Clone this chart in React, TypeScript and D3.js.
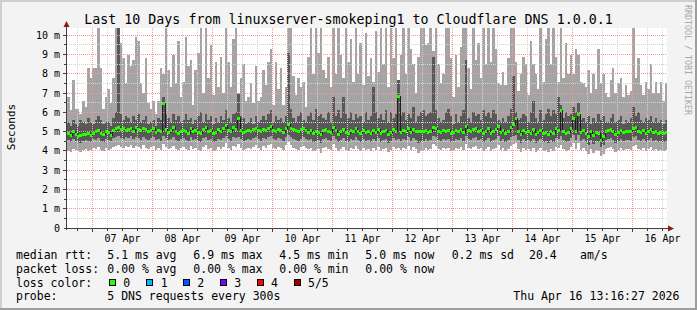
import React from "react";
import * as d3 from "d3";

const W = 697;
const H = 310;
const TITLE = "Last 10 Days from linuxserver-smokeping1 to Cloudflare DNS 1.0.0.1";
const Y_LABEL = "Seconds";
const SIDE_LABEL = "RRDTOOL / TOBI OETIKER";
const STAMP = "Thu Apr 16 13:16:27 2026";

// hourly smoke values in ms (5 pings: max, 4th, median, 2nd, min)
const maxRtt = [
  6.8,6.1,7.7,6.2,6.2,5.9,6.6,6.3,8.3,7.8,8.3,8.3,10.4,8.3,6.2,6.8,7.2,6.5,7.8,10.4,10.4,9.6,8.8,7.5,
  9.0,8.4,8.7,9.9,9.7,7.5,7.0,8.8,6.5,6.2,6.6,5.9,6.6,8.3,8.0,10.4,8.2,7.3,9.0,7.5,9.7,6.8,7.6,9.9,
  8.4,8.7,6.4,8.2,9.1,10.4,7.0,10.4,7.8,9.5,6.9,8.6,7.3,8.9,7.0,10.4,8.6,7.3,9.8,10.4,7.0,7.8,8.5,6.6,
  6.8,7.5,6.5,8.4,6.6,6.8,8.2,7.4,8.6,9.3,6.4,8.6,7.2,8.3,6.4,7.3,10.4,10.4,7.9,6.9,7.8,7.3,7.6,6.3,
  8.9,10.4,8.0,10.4,9.1,10.4,8.2,7.8,8.9,7.3,10.4,8.0,10.4,9.0,7.8,10.4,8.6,9.8,7.6,10.4,8.0,9.6,7.4,10.1,
  7.9,8.8,7.6,10.2,8.1,10.4,8.5,10.4,7.3,10.4,8.8,10.4,7.7,9.0,10.4,8.0,10.4,9.3,8.5,7.0,8.9,10.4,10.4,9.5,
  9.6,10.4,9.2,10.4,8.5,7.5,8.0,10.4,10.4,8.8,6.8,9.0,7.3,9.4,10.4,10.4,8.3,7.2,10.4,8.7,9.6,7.8,10.4,8.5,
  10.4,8.6,10.4,9.3,7.5,7.4,8.1,7.4,8.8,10.4,10.4,8.6,7.1,8.0,8.9,8.5,6.9,9.7,8.5,8.0,7.2,10.4,7.6,9.8,
  10.4,8.5,10.4,8.9,7.6,10.4,7.8,9.6,8.0,9.0,8.0,9.3,9.0,7.6,7.5,7.3,8.2,7.0,8.0,7.2,9.3,7.5,8.0,7.0,
  6.8,7.7,8.3,7.0,7.5,7.8,6.8,7.4,6.9,7.1,10.4,7.8,8.8,7.4,6.9,7.6,7.2,8.5,7.0,7.6,7.0,7.6,6.6,7.5,
];
const p4Rtt = [
  5.5,5.3,5.6,5.4,5.3,5.6,5.5,5.4,5.7,5.5,5.4,5.6,5.8,5.6,5.4,5.5,5.5,5.3,5.7,6.0,10.4,5.9,5.6,5.8,
  5.7,5.5,5.8,5.6,5.9,5.5,5.6,5.8,5.4,5.5,5.6,5.3,5.7,5.6,6.8,5.9,5.7,5.5,5.9,5.6,5.8,5.5,5.6,5.9,
  5.6,5.7,5.4,5.6,5.8,6.0,5.5,5.9,5.6,5.8,5.4,5.7,5.5,5.8,5.6,6.1,5.7,5.5,5.9,6.0,6.95,5.8,5.7,5.4,
  5.5,5.7,5.4,5.8,5.5,5.6,5.8,5.6,5.9,6.1,5.5,5.8,5.6,5.7,5.5,5.8,9.1,6.2,5.7,5.5,5.8,6.0,5.6,5.5,
  5.8,6.0,5.6,6.2,5.8,5.9,5.7,5.6,6.0,5.5,6.8,5.8,6.1,5.7,6.8,5.9,5.7,6.0,5.6,5.9,5.7,5.8,5.5,6.0,
  5.6,5.8,7.3,6.0,5.7,5.9,5.6,6.1,5.5,6.0,5.7,5.9,7.7,5.8,6.0,5.6,5.9,5.7,6.3,5.5,5.8,6.0,6.1,5.8,
  5.9,6.0,8.9,6.1,5.7,5.5,5.6,6.0,6.2,5.8,5.4,5.9,5.5,5.8,6.1,8.7,5.7,5.5,6.0,5.8,5.9,5.6,6.1,5.8,
  6.0,5.7,6.1,5.9,5.6,5.5,5.7,5.5,5.8,6.2,7.9,6.0,5.6,5.7,5.9,5.8,5.5,6.0,6.6,5.7,5.5,6.1,5.6,5.9,
  6.2,5.8,6.1,5.9,6.8,6.4,5.7,6.0,5.8,5.9,6.3,6.0,6.5,5.6,5.7,5.5,5.8,5.4,5.7,5.5,5.9,5.6,5.8,5.5,
  5.5,5.7,5.9,5.5,5.6,5.8,5.4,5.6,5.5,5.7,6.3,5.8,6.0,5.6,5.5,5.7,5.6,5.8,5.5,5.7,5.5,5.6,5.4,5.6,
];
const medRtt = [
  4.95,4.85,5.05,4.90,4.80,4.85,4.90,4.90,4.95,4.85,4.95,5.05,5.10,4.95,4.90,5.05,5.00,4.85,5.10,5.20,5.25,5.15,5.20,5.10,
  5.15,5.20,5.05,5.25,5.15,5.10,5.20,5.15,5.05,5.10,5.20,5.00,5.10,5.05,6.50,5.15,5.00,5.10,5.25,5.05,4.95,5.05,5.10,5.05,
  4.95,5.20,5.05,5.10,5.00,4.95,5.15,5.25,5.05,5.10,4.95,5.00,5.15,5.05,5.20,5.35,5.10,5.05,5.25,5.15,5.70,5.10,5.00,5.05,
  5.10,5.05,5.15,5.20,5.10,5.05,5.15,5.10,5.20,5.30,5.10,5.05,5.15,5.10,5.00,5.20,5.40,5.20,5.15,5.10,5.05,5.15,5.20,5.10,
  5.00,5.10,4.95,5.05,5.00,4.90,5.10,5.15,5.05,5.00,5.25,5.10,4.90,5.05,5.15,5.00,4.95,5.10,5.05,5.20,5.05,4.95,5.10,5.00,
  5.05,4.95,5.10,5.00,5.15,4.95,5.05,5.10,4.90,5.00,5.15,5.05,6.85,5.00,5.10,5.05,5.20,5.00,5.15,5.05,5.05,5.05,5.05,5.10,
  5.00,5.05,5.25,5.20,5.05,5.00,5.10,5.05,5.10,4.95,5.00,5.10,5.05,5.15,5.00,5.30,5.10,5.05,5.15,5.20,5.05,5.10,4.95,5.05,
  5.20,4.95,5.05,5.15,5.30,5.00,5.10,4.95,5.05,5.25,5.40,5.70,5.05,4.90,5.10,5.00,5.05,4.95,5.15,4.90,5.00,5.10,4.95,5.00,
  4.90,5.05,4.95,5.20,5.10,6.15,5.05,4.95,5.00,5.20,5.70,5.05,5.90,5.00,5.10,4.95,4.80,5.05,4.85,5.00,4.95,4.55,4.75,5.05,
  5.10,5.15,5.05,4.90,5.00,5.10,5.00,5.05,5.05,5.05,5.20,5.25,5.05,5.00,5.10,4.95,5.05,5.15,5.00,5.05,4.95,5.00,4.95,5.00,
];
const p2Rtt = [
  4.55,4.45,4.60,4.50,4.45,4.40,4.50,4.55,4.50,4.45,4.60,4.55,4.65,4.50,4.45,4.60,4.55,4.50,4.65,4.70,4.75,4.65,4.60,4.70,
  4.65,4.75,4.60,4.70,4.65,4.55,4.70,4.60,4.55,4.65,4.70,4.55,4.60,4.50,4.80,4.65,4.55,4.60,4.70,4.55,4.50,4.60,4.65,4.55,
  4.50,4.70,4.55,4.60,4.50,4.45,4.65,4.70,4.55,4.60,4.45,4.50,4.60,4.55,4.65,4.80,4.60,4.50,4.70,4.65,4.70,4.60,4.50,4.55,
  4.60,4.55,4.65,4.70,4.60,4.50,4.65,4.60,4.70,4.75,4.60,4.55,4.65,4.60,4.50,4.70,4.85,4.70,4.60,4.55,4.50,4.60,4.70,4.60,
  4.55,4.60,4.45,4.50,4.55,4.40,4.60,4.65,4.55,4.50,4.75,4.60,4.45,4.55,4.65,4.50,4.45,4.60,4.55,4.70,4.55,4.45,4.60,4.50,
  4.55,4.45,4.60,4.50,4.65,4.45,4.55,4.60,4.40,4.50,4.65,4.55,4.60,4.50,4.60,4.55,4.70,4.50,4.65,4.55,4.40,4.45,4.50,4.60,
  4.50,4.55,4.75,4.70,4.55,4.50,4.60,4.55,4.60,4.45,4.50,4.60,4.55,4.65,4.50,4.80,4.60,4.55,4.65,4.70,4.55,4.60,4.45,4.55,
  4.65,4.45,4.55,4.60,4.75,4.50,4.60,4.45,4.55,4.70,4.80,4.85,4.55,4.40,4.60,4.50,4.55,4.45,4.60,4.40,4.50,4.60,4.45,4.50,
  4.40,4.55,4.45,4.65,4.60,4.75,4.55,4.45,4.50,4.65,4.85,4.55,4.85,4.50,4.60,4.45,4.30,4.55,4.35,4.50,4.45,4.20,4.30,4.55,
  4.60,4.65,4.55,4.40,4.50,4.60,4.50,4.55,4.55,4.50,4.70,4.75,4.55,4.50,4.60,4.45,4.55,4.65,4.50,4.55,4.45,4.50,4.45,4.50,
];
const minRtt = [
  4.00,3.95,4.10,4.05,4.00,3.95,4.05,4.10,4.00,4.05,4.15,4.10,4.20,4.05,4.00,4.15,4.05,4.10,4.20,4.25,4.30,4.20,4.15,4.25,
  4.20,4.30,4.15,4.25,4.20,4.10,4.30,4.15,4.10,4.20,4.25,4.05,4.15,4.05,4.35,4.20,4.10,4.15,4.25,4.10,4.05,4.15,4.20,4.10,
  4.05,4.25,4.10,4.15,4.05,4.00,4.20,4.30,4.10,4.15,4.00,4.05,4.20,4.10,4.20,4.40,4.15,4.05,4.25,4.20,4.35,4.15,4.05,4.10,
  4.15,4.10,4.20,4.30,4.15,4.05,4.25,4.15,4.30,4.35,4.15,4.10,4.20,4.15,4.05,4.30,4.45,4.30,4.15,4.10,4.05,4.20,4.25,4.15,
  4.10,4.15,4.00,4.05,4.10,3.90,4.15,4.20,4.10,4.05,4.35,4.15,4.00,4.10,4.20,4.05,4.00,4.15,4.10,4.25,4.10,4.00,4.15,4.05,
  4.10,4.00,4.15,4.05,4.20,4.00,4.10,4.15,3.95,4.05,4.20,4.10,4.15,4.05,4.15,4.10,4.25,4.05,4.20,4.10,3.90,4.00,4.05,4.15,
  4.05,4.10,4.35,4.25,4.10,4.05,4.15,4.10,4.15,4.00,4.05,4.15,4.10,4.20,4.05,4.35,4.15,4.10,4.20,4.25,4.10,4.15,4.00,4.10,
  4.20,4.00,4.10,4.15,4.30,4.05,4.15,4.00,4.10,4.25,4.35,4.40,4.10,3.95,4.15,4.05,4.10,4.00,4.15,3.95,4.05,4.15,4.00,4.05,
  3.95,4.10,4.00,4.20,4.15,4.30,4.10,4.00,4.05,4.20,4.40,4.10,4.40,4.05,4.15,4.00,3.85,4.10,3.90,4.05,4.00,3.75,3.85,4.10,
  4.15,4.20,4.10,3.95,4.05,4.15,4.05,4.10,4.10,4.05,4.25,4.30,4.10,4.05,4.15,4.00,4.10,4.20,4.05,4.10,4.00,4.05,4.00,4.05,
];

const yTickValues = [0, 1, 2, 3, 4, 5, 6, 7, 8, 9, 10];
const yTickLabels = ["0", "1 m", "2 m", "3 m", "4 m", "5 m", "6 m", "7 m", "8 m", "9 m", "10 m"];

const rttLabel = "median rtt:";
const rttStats = ["5.1 ms avg", "6.9 ms max", "4.5 ms min", "5.0 ms now", "0.2 ms sd", "20.4", "am/s"];
const lossLabel = "packet loss:";
const lossStats = ["0.00 % avg", "0.00 % max", "0.00 % min", "0.00 % now"];
const colorLabel = "loss color:";
const lossNames = ["0", "1", "2", "3", "4", "5/5"];
const lossColors = ["#26ff00", "#00b8ff", "#0059ff", "#7e00ff", "#ff0000", "#a10000"];
const probeLabel = "probe:";
const probeText = "5 DNS requests every 300s";

// layout
const PL = 67, PR = 667, PT = 28, PB = 228;
const FONT = "'DejaVu Sans Mono', monospace";
const statX = [107.3, 193.3, 279.3, 365.3, 451.7, 529, 580];
const boxX = [109, 146, 183, 219.5, 256.5, 293.5];
const nameX = [123.3, 160.7, 197.3, 234.3, 271, 308];

export default function App() {
  const t0 = Date.UTC(2026, 3, 6, 13, 48);
  const t1 = Date.UTC(2026, 3, 16, 13, 48);
  const HOUR = 3600000;
  const x = d3.scaleUtc().domain([new Date(t0), new Date(t1)]).range([PL, PR]);
  const y = d3.scaleLinear().domain([0, 10.38]).range([PB, PT]);
  const yc = (v: number) => Math.round(y(Math.min(v, 10.38)));

  const bars = maxRtt.map((mx, i) => {
    const xa = Math.round(x(new Date(t0 + i * HOUR)));
    const xb = Math.round(x(new Date(t0 + (i + 1) * HOUR)));
    return { xa, xb, mx, p4: p4Rtt[i], md: medRtt[i], p2: p2Rtt[i], mn: minRtt[i] };
  });

  const stepPts: [number, number][] = [];
  bars.forEach((b) => {
    stepPts.push([b.xa, Math.round(y(b.md)) + 0.5]);
  });
  const last = bars[bars.length - 1];
  stepPts.push([last.xb, Math.round(y(last.md)) + 0.5]);
  const medLine = d3.line().curve(d3.curveStepAfter)(stepPts) || "";

  const days = d3.utcDay.range(new Date(t0), new Date(t1));
  const sixH = d3.utcHour.every(6)!.range(new Date(t0), new Date(t1)).filter((d) => d.getUTCHours() !== 0);
  const noons = d3.utcHour.every(12)!.range(new Date(t0), new Date(t1 + 1)).filter((d) => d.getUTCHours() === 12);
  const fmt = d3.utcFormat("%d %b");

  const minorY = d3.range(0.5, 10.4, 0.5).filter((v) => Math.abs(v - Math.round(v)) > 0.01);
  const majorY = d3.range(1, 11, 1);

  const px = (v: number) => Math.floor(v) + 0.5;

  const rowY = [259, 272.5, 286.5, 300];

  return (
    <svg
      width={W}
      height={H}
      style={{ position: "fixed", left: 0, top: 0 }}
      fontFamily={FONT}
    >
      <rect x={0} y={0} width={W} height={H} fill="#f3f3f3" />
      <rect x={0} y={0} width={W} height={2} fill="#cfcfcf" />
      <rect x={0} y={0} width={2} height={H} fill="#cfcfcf" />
      <rect x={0} y={H - 2} width={W} height={2} fill="#9e9e9e" />
      <rect x={W - 2} y={0} width={2} height={H} fill="#9e9e9e" />

      <rect x={PL} y={PT} width={PR - PL} height={PB - PT} fill="#ffffff" />

      <g shapeRendering="crispEdges">
        {bars.map((b, i) => (
          <rect key={"l" + i} x={b.xa} y={yc(b.mx)} width={b.xb - b.xa} height={yc(b.mn) - yc(b.mx)} fill="#a4a4a4" />
        ))}
        {bars.map((b, i) => (
          <rect key={"d" + i} x={b.xa} y={yc(b.p4)} width={b.xb - b.xa} height={yc(b.p2) - yc(b.p4)} fill="#585858" />
        ))}
      </g>

      {/* grid */}
      <g shapeRendering="crispEdges" strokeDasharray="1,1" strokeWidth={1}>
        {minorY.map((v) => (
          <line key={"my" + v} x1={PL} x2={PR} y1={px(y(v))} y2={px(y(v))} stroke="#d4d4d4" />
        ))}
        {sixH.map((d) => (
          <line key={"mx" + +d} x1={px(x(d))} x2={px(x(d))} y1={PT} y2={PB} stroke="#d4d4d4" />
        ))}
        {majorY.map((v) => (
          <line key={"My" + v} x1={PL} x2={PR} y1={px(y(v))} y2={px(y(v))} stroke="#f09a9a" />
        ))}
        {days.map((d) => (
          <line key={"Mx" + +d} x1={px(x(d))} x2={px(x(d))} y1={PT} y2={PB} stroke="#f09a9a" />
        ))}
      </g>

      {/* median */}
      <path d={medLine} fill="none" stroke="#202020" strokeWidth={1} shapeRendering="crispEdges" />
      <g shapeRendering="crispEdges">
        {bars.map((b, i) => (
          <rect key={"m" + i} x={b.xa} y={Math.round(y(b.md)) - 1} width={b.xb - b.xa} height={3} fill={lossColors[0]} />
        ))}
      </g>

      {/* axes */}
      <g shapeRendering="crispEdges" stroke="#404040">
        <line x1={66.5} x2={66.5} y1={PB + 2} y2={24} />
        <line x1={64} x2={671} y1={228.5} y2={228.5} />
        {majorY.map((v) => (
          <line key={"ty" + v} x1={63} x2={66} y1={px(y(v))} y2={px(y(v))} />
        ))}
        {minorY.map((v) => (
          <line key={"tym" + v} x1={64} x2={66} y1={px(y(v))} y2={px(y(v))} />
        ))}
        {days.map((d) => (
          <line key={"tx" + +d} x1={px(x(d))} x2={px(x(d))} y1={229} y2={232} />
        ))}
        {sixH.map((d) => (
          <line key={"txm" + +d} x1={px(x(d))} x2={px(x(d))} y1={229} y2={231} />
        ))}
      </g>
      <path d="M63.5,27 L69.5,27 L66.5,21 Z" fill="#8b1a1a" />
      <path d="M668,225.5 L668,231.5 L674,228.5 Z" fill="#8b1a1a" />

      {/* y labels */}
      {yTickValues.map((v, i) => (
        <text key={"yl" + v} x={60} y={y(v) + 3.5} fontSize={10} textAnchor="end" fill="#000">
          {yTickLabels[i]}
        </text>
      ))}
      {noons.map((d) => (
        <text key={"xl" + +d} x={x(d)} y={242} fontSize={10} textAnchor="middle" fill="#000">
          {fmt(d)}
        </text>
      ))}

      <text x={348.5} y={23.5} fontSize={13.3} textAnchor="middle" fill="#000">{TITLE}</text>
      <text transform="translate(14.5,127) rotate(-90)" fontSize={11} textAnchor="middle" fill="#000">{Y_LABEL}</text>
      <text transform="translate(685,5) rotate(90)" fontSize={8.3} textAnchor="start" fill="#a8a8a8">{SIDE_LABEL}</text>

      {/* legend */}
      <g fontSize={11.5} fill="#000" style={{ whiteSpace: "pre" }}>
        <text x={16} y={rowY[0]}>{rttLabel}</text>
        {rttStats.map((s, i) => (
          <text key={"rs" + i} x={statX[i]} y={rowY[0]}>{s}</text>
        ))}
        <text x={16} y={rowY[1]}>{lossLabel}</text>
        {lossStats.map((s, i) => (
          <text key={"ls" + i} x={statX[i]} y={rowY[1]}>{s}</text>
        ))}
        <text x={16} y={rowY[2]}>{colorLabel}</text>
        {lossNames.map((s, i) => (
          <text key={"ln" + i} x={nameX[i]} y={rowY[2]}>{s}</text>
        ))}
        <text x={16} y={rowY[3]}>{probeLabel}</text>
        <text x={statX[0]} y={rowY[3]}>{probeText}</text>
        <text x={513.3} y={rowY[3]}>{STAMP}</text>
      </g>
      <g shapeRendering="crispEdges">
        {lossColors.map((c, i) => (
          <rect key={"lb" + i} x={boxX[i] + 0.5} y={279.5} width={6} height={6} fill={c} stroke="#000" strokeWidth={1} />
        ))}
      </g>
    </svg>
  );
}
